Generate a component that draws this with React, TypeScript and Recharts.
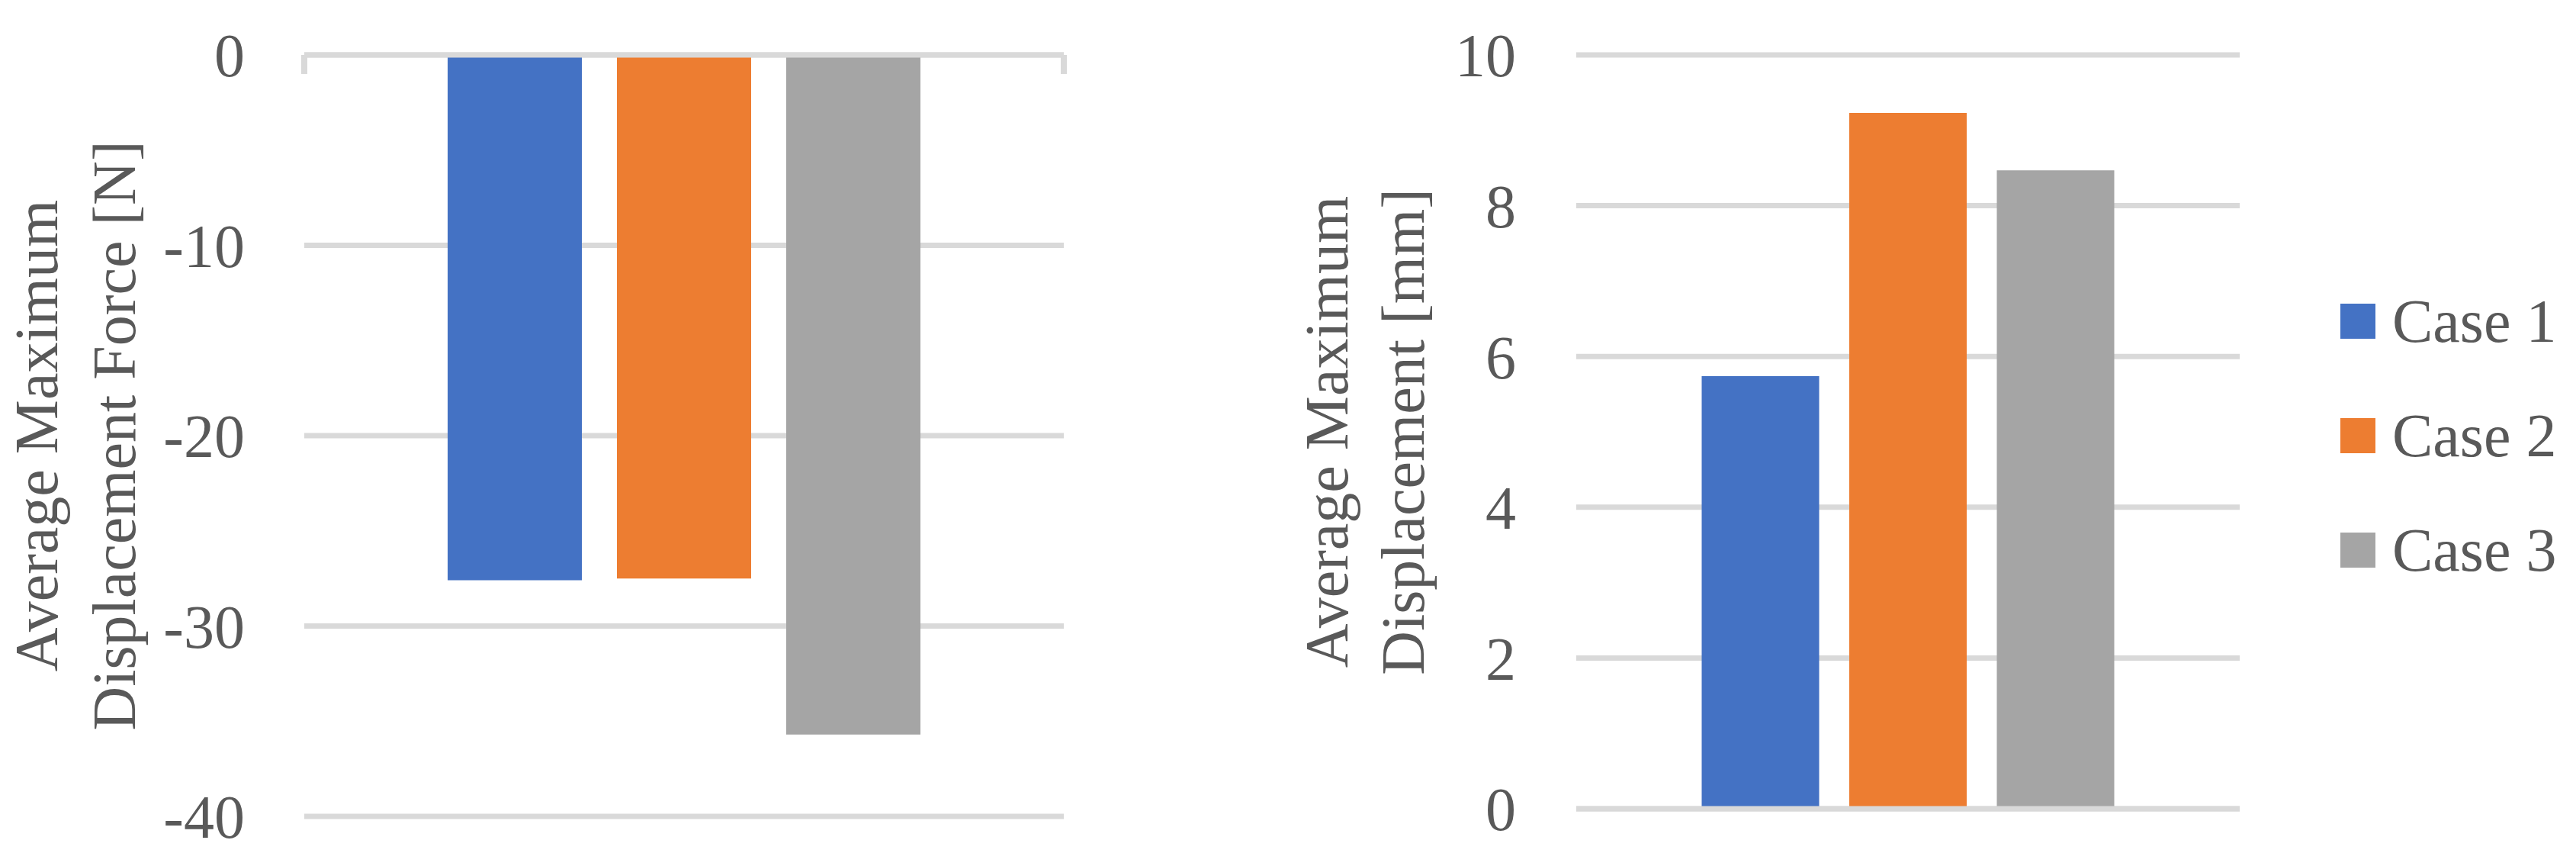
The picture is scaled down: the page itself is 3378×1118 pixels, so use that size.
import { Bar, BarChart, CartesianGrid, Legend, ReferenceLine, XAxis, YAxis } from 'recharts';

// series + axis data
const cases = ['Case 1', 'Case 2', 'Case 3'];
const caseKeys = ['case1', 'case2', 'case3'];
const forceValues = [-27.6, -27.5, -35.7];
const displacementValues = [5.74, 9.23, 8.47];
const forceTicks = [0, -10, -20, -30, -40];
const displacementTicks = [0, 2, 4, 6, 8, 10];
const forceTitle = ['Average Maximum', 'Displacement Force [N]'];
const displacementTitle = ['Average Maximum', 'Displacement [mm]'];
const category = 'Average';

const colors = ['#4472C4', '#ED7D31', '#A5A5A5'];
const FONT = "'Liberation Serif', 'Times New Roman', serif";
const TEXT = '#595959';
const GRID = '#D9D9D9';
const tickStyle = { fontSize: 80, fill: TEXT, fontFamily: FONT };

function toRows(values: number[]) {
  const row: Record<string, string | number> = { name: category };
  caseKeys.forEach((k, i) => {
    row[k] = values[i];
  });
  return [row];
}

function AxisTitle({ viewBox, lines, baselines }: any) {
  const cy = viewBox && viewBox.height ? viewBox.y + viewBox.height / 2 : 566;
  return (
    <g>
      {lines.map((line: string, i: number) => (
        <text
          key={line}
          x={baselines[i]}
          y={cy}
          transform={`rotate(-90 ${baselines[i]} ${cy})`}
          textAnchor="middle"
          fontSize={80}
          fill={TEXT}
          fontFamily={FONT}
        >
          {line}
        </text>
      ))}
    </g>
  );
}

function CaseLegend({ payload }: any) {
  const items = payload && payload.length ? payload.map((p: any) => ({ label: p.value, color: p.color })) : cases.map((c, i) => ({ label: c, color: colors[i] }));
  return (
    <div style={{ fontFamily: FONT }}>
      {items.map((it: any) => (
        <div key={it.label} style={{ display: 'flex', alignItems: 'center', height: 150 }}>
          <span style={{ width: 46, height: 46, background: it.color, marginRight: 22 }} />
          <span style={{ fontSize: 80, lineHeight: '80px', color: TEXT, whiteSpace: 'nowrap', fontFamily: FONT }}>{it.label}</span>
        </div>
      ))}
    </div>
  );
}

// short tick marks at both ends of the top category axis (band start / end)
const edgeTick = [
  { x: category, y: 0 },
  { x: category, y: -1 },
];

function ForceChart() {
  return (
    <BarChart width={1450} height={1118} data={toRows(forceValues)} margin={{ top: 72, right: 55, bottom: 48, left: 0 }} barCategoryGap={188} barGap={46}>
      <CartesianGrid vertical={false} stroke={GRID} strokeWidth={7} />
      <XAxis
        dataKey="name"
        orientation="top"
        mirror
        height={1}
        tick={false}
        tickLine={false}
        axisLine={{ stroke: GRID, strokeWidth: 7 }}
      />
      <YAxis
        type="number"
        domain={[-40, 0]}
        ticks={forceTicks}
        width={399}
        axisLine={false}
        tickLine={false}
        tickSize={0}
        tickMargin={78}
        tick={tickStyle}
        label={<AxisTitle lines={forceTitle} baselines={[75, 177]} />}
      />
      {caseKeys.map((k, i) => (
        <Bar key={k} dataKey={k} name={cases[i]} fill={colors[i]} isAnimationActive={false} />
      ))}
      <ReferenceLine segment={edgeTick} position="start" stroke={GRID} strokeWidth={8} ifOverflow="visible" />
      <ReferenceLine segment={edgeTick} position="end" stroke={GRID} strokeWidth={8} ifOverflow="visible" />
    </BarChart>
  );
}

function DisplacementChart() {
  return (
    <BarChart width={1778} height={1118} data={toRows(displacementValues)} margin={{ top: 72, right: 441, bottom: 57, left: 0 }} barCategoryGap={164.5} barGap={39.5}>
      <CartesianGrid vertical={false} stroke={GRID} strokeWidth={7} />
      <XAxis dataKey="name" height={1} tick={false} tickLine={false} axisLine={{ stroke: GRID, strokeWidth: 7 }} />
      <YAxis
        type="number"
        domain={[0, 10]}
        ticks={displacementTicks}
        width={467}
        axisLine={false}
        tickLine={false}
        tickSize={0}
        tickMargin={79}
        tick={tickStyle}
        label={<AxisTitle lines={displacementTitle} baselines={[167, 267]} />}
      />
      <Legend layout="vertical" align="center" verticalAlign="middle" content={<CaseLegend />} wrapperStyle={{ left: 1469, top: 346, width: 320 }} />
      {caseKeys.map((k, i) => (
        <Bar key={k} dataKey={k} name={cases[i]} fill={colors[i]} isAnimationActive={false} />
      ))}
    </BarChart>
  );
}

export default function App() {
  return (
    <div style={{ position: 'absolute', left: 0, top: 0, width: 3378, height: 1118, background: '#fff', fontFamily: FONT }}>
      <div style={{ position: 'absolute', left: 0, top: 0 }}>
        <ForceChart />
      </div>
      <div style={{ position: 'absolute', left: 1600, top: 0 }}>
        <DisplacementChart />
      </div>
    </div>
  );
}
